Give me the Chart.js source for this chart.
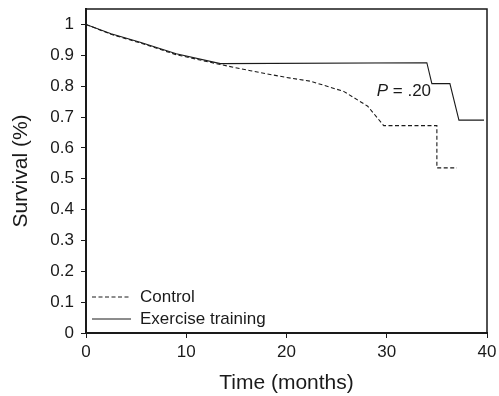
<!DOCTYPE html>
<html>
<head>
<meta charset="utf-8">
<script src="https://cdn.jsdelivr.net/npm/chart.js@4.4.0/dist/chart.umd.min.js"></script>
<style>
  html, body { margin: 0; padding: 0; background: #fff; }
  #wrap { width: 499px; height: 396px; }
</style>
</head>
<body>
<div id="wrap"><canvas id="myChart" width="499" height="396"></canvas></div>
<script>
// data
const exerciseTime = [0, 2.5, 5.4, 9, 13.4, 34.0, 34.5, 36.3, 37.2, 39.7]
const exerciseSurv = [1, 0.97, 0.942, 0.905, 0.873, 0.876, 0.808, 0.808, 0.69, 0.69]

const controlTime = [0, 2.5, 5.4, 9, 13.4, 16.4, 20, 22.4, 25.7, 28.1, 29.7, 35.0, 35.0, 37.0]
const controlSurv = [1, 0.968, 0.94, 0.902, 0.870, 0.85, 0.828, 0.816, 0.783, 0.735, 0.672, 0.672, 0.535, 0.535]

const xTicks = [0, 10, 20, 30, 40]
const yTicks = [0, 0.1, 0.2, 0.3, 0.4, 0.5, 0.6, 0.7, 0.8, 0.9, 1]
const yTickLabels = ["0", "0.1", "0.2", "0.3", "0.4", "0.5", "0.6", "0.7", "0.8", "0.9", "1"]

const legendItems = ["Control", "Exercise training"]
const pText = " = .20"

const ink = "#1a1a1a"
const fontFam = "'Liberation Sans', Arial, Helvetica, sans-serif"

function toPoints(xs, ys) {
    return xs.map((x, i) => ({ x: x, y: ys[i] }))
}

// box, legend and P value
const extras = {
    id: "extras",
    afterDraw(chart) {
        const ctx = chart.ctx
        const a = chart.chartArea
        ctx.save()
        ctx.strokeStyle = ink
        ctx.lineWidth = 1.5
        ctx.beginPath()
        ctx.moveTo(a.left, a.top)
        ctx.lineTo(a.right, a.top)
        ctx.lineTo(a.right, a.bottom)
        ctx.stroke()

        // legend
        ctx.lineWidth = 1
        ctx.font = "17px " + fontFam
        ctx.fillStyle = ink
        ctx.textBaseline = "middle"
        const rows = [a.bottom - 36, a.bottom - 14]
        ctx.setLineDash([4, 2.5])
        ctx.beginPath()
        ctx.moveTo(a.left + 6, rows[0])
        ctx.lineTo(a.left + 44, rows[0])
        ctx.stroke()
        ctx.setLineDash([])
        ctx.beginPath()
        ctx.moveTo(a.left + 6, rows[1])
        ctx.lineTo(a.left + 45, rows[1])
        ctx.stroke()
        ctx.fillText(legendItems[0], a.left + 54, rows[0])
        ctx.fillText(legendItems[1], a.left + 54, rows[1])

        // P value
        const xs = chart.scales.x
        const ys = chart.scales.y
        const px = xs.getPixelForValue(29.0)
        const py = ys.getPixelForValue(0.784)
        ctx.font = "italic 17px " + fontFam
        ctx.fillText("P", px, py)
        const w = ctx.measureText("P").width
        ctx.font = "17px " + fontFam
        ctx.fillText(pText, px + w, py)
        ctx.restore()
    }
}

const config = {
    type: "line",
    data: {
        datasets: [
            {
                label: legendItems[0],
                data: toPoints(controlTime, controlSurv),
                borderColor: ink,
                borderWidth: 1.1,
                borderDash: [4, 2.5],
                pointRadius: 0,
                tension: 0,
                fill: false
            },
            {
                label: legendItems[1],
                data: toPoints(exerciseTime, exerciseSurv),
                borderColor: ink,
                borderWidth: 1.1,
                pointRadius: 0,
                tension: 0,
                fill: false
            }
        ]
    },
    options: {
        responsive: false,
        animation: false,
        layout: { padding: { top: 9, right: 12, left: 0, bottom: 0 } },
        plugins: {
            legend: { display: false },
            tooltip: { enabled: false }
        },
        scales: {
            x: {
                type: "linear",
                min: 0,
                max: 40,
                afterBuildTicks: (s) => { s.ticks = xTicks.map(v => ({ value: v })) },
                afterFit: (s) => { s.height = 63; s.paddingLeft = 0; s.paddingRight = 0 },
                grid: { drawOnChartArea: false, drawTicks: true, tickLength: 5, color: ink, lineWidth: 1 },
                border: { color: ink, width: 2 },
                ticks: { color: ink, font: { size: 17, family: fontFam }, padding: 4, maxRotation: 0 },
                title: { display: true, text: "Time (months)", color: ink, font: { size: 21, family: fontFam }, padding: { top: 0, bottom: 0 } }
            },
            y: {
                min: 0,
                max: 1.05,
                afterBuildTicks: (s) => { s.ticks = yTicks.map(v => ({ value: v })) },
                afterFit: (s) => { s.width = 86; s.paddingTop = 0; s.paddingBottom = 0 },
                grid: { drawOnChartArea: false, drawTicks: true, tickLength: 5, color: ink, lineWidth: 1 },
                border: { color: ink, width: 2 },
                ticks: {
                    color: ink,
                    font: { size: 17, family: fontFam },
                    padding: 7,
                    callback: (v, i) => yTickLabels[i]
                },
                title: { display: true, text: "Survival (%)", color: ink, font: { size: 21, family: fontFam }, padding: { top: 9, bottom: 0 } }
            }
        }
    },
    plugins: [extras]
}

new Chart(document.getElementById("myChart"), config)
</script>
</body>
</html>
